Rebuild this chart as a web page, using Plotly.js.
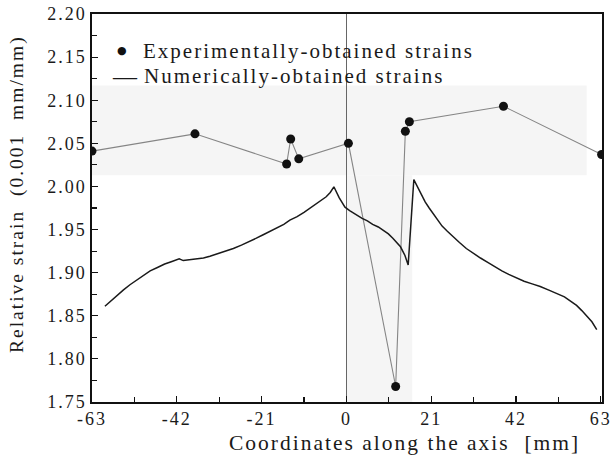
<!DOCTYPE html>
<html>
<head>
<meta charset="utf-8">
<script src="https://cdn.plot.ly/plotly-3.0.1.min.js"></script>
<style>
html,body{margin:0;padding:0;background:#fff;}
#plot{width:613px;height:455px;}
svg text{letter-spacing:2px;}
</style>
</head>
<body>
<div id="plot"></div>
<script>
// Experimentally-obtained strains
const expX = [-63, -37.5, -14.8, -13.8, -11.8, 0.5, 12.2, 14.6, 15.6, 38.9, 63.2];
const expY = [2.041, 2.061, 2.026, 2.055, 2.032, 2.050, 1.768, 2.064, 2.075, 2.093, 2.037];

// Numerically-obtained strains
const numX = [-59.8, -58.6, -57.5, -56.3, -55.2, -53.6, -52, -50.3, -48.6, -46.8, -45, -43.2, -41.4, -40.4, -38.5, -37, -35.4, -33.8,
              -31, -28, -26, -24, -22.3, -20.6, -18.8, -17, -15.5, -14, -12.2, -10.5, -9, -7.4, -6.2, -5, -4, -3.1,
              -1.8, -0.35, 0.8, 1.5, 2.7, 3.9, 5.2, 6.5, 7.9, 9.3, 10.4, 11.5, 12.5, 13.4, 14.5, 15.3, 16.7,
              17.6, 18.5, 19.5, 20.5, 21.5, 22.5, 23.7, 25, 26.5, 28, 29.7, 31.5, 33.2, 35, 36.7, 38.5, 40.2, 42,
              44, 46, 48, 50, 52, 54, 55.5, 57, 58.3, 59.5, 60.8, 62];
const numY = [1.861, 1.866, 1.871, 1.876, 1.880, 1.886, 1.891, 1.897, 1.902, 1.906, 1.910, 1.913, 1.916, 1.914, 1.915, 1.916, 1.917, 1.919,
              1.923, 1.928, 1.932, 1.936, 1.940, 1.944, 1.948, 1.952, 1.956, 1.961, 1.965, 1.970, 1.975, 1.980, 1.984, 1.988, 1.993, 1.9996,
              1.987, 1.976, 1.972, 1.970, 1.966, 1.963, 1.960, 1.956, 1.953, 1.949, 1.945, 1.940, 1.935, 1.930, 1.920, 1.909, 2.008,
              1.999, 1.990, 1.982, 1.975, 1.968, 1.961, 1.954, 1.948, 1.941, 1.935, 1.928, 1.922, 1.917, 1.912, 1.907, 1.902, 1.898, 1.894,
              1.890, 1.887, 1.884, 1.880, 1.876, 1.872, 1.867, 1.862, 1.856, 1.850, 1.843, 1.834];

// Axis ticks
const xTicks = [-63, -42, -21, 0, 21, 42, 63];
const xTickText = ['-63', '-42', '-21', '0', '21', '42', '63'];
const xMinor = [-52.5, -31.5, -10.5, 10.5, 31.5, 52.5];
const yTicks = [1.75, 1.80, 1.85, 1.90, 1.95, 2.00, 2.05, 2.10, 2.15, 2.20];
const yTickText = ['1.75', '1.80', '1.85', '1.90', '1.95', '2.00', '2.05', '2.10', '2.15', '2.20'];

const serif = 'Liberation Serif, Times New Roman, serif';
const ink = '#1a1a1a';

const traces = [
  {x: expX, y: expY, mode: 'lines', line: {color: '#858585', width: 1.1}, hoverinfo: 'skip', showlegend: false},
  {x: numX, y: numY, mode: 'lines', line: {color: ink, width: 1.5}, showlegend: false},
  {x: expX, y: expY, mode: 'markers', marker: {color: '#111', size: 9}, showlegend: false}
];

const plotL = 92, plotR = 602, plotT = 14, plotB = 402;
const px = v => (v - plotL) / (plotR - plotL);
const py = v => (plotB - v) / (plotB - plotT);

const layout = {
  width: 613, height: 455,
  margin: {l: plotL, r: 613 - plotR, t: plotT, b: 455 - plotB},
  paper_bgcolor: '#fff', plot_bgcolor: '#fff',
  font: {family: serif, size: 18, color: ink},
  xaxis: {
    range: [-63, 63.3], tickvals: xTicks, ticktext: xTickText,
    ticks: 'inside', ticklen: 6, tickwidth: 1.2, tickcolor: '#111',
    minor: {ticks: 'inside', ticklen: 5, tickwidth: 1.2, tickcolor: '#111', tickvals: xMinor},
    showline: true, linecolor: '#111', linewidth: 1.6, mirror: true,
    showgrid: false, zeroline: true, zerolinecolor: '#666', zerolinewidth: 1,
    tickfont: {family: serif, size: 18, color: ink}
  },
  yaxis: {
    range: [1.75, 2.20], tickvals: yTicks, ticktext: yTickText,
    ticks: 'inside', ticklen: 6, tickwidth: 1.2, tickcolor: '#111',
    minor: {ticks: 'inside', ticklen: 5, tickwidth: 1.2, tickcolor: '#111', dtick: 0.025, tick0: 1.75},
    showline: true, linecolor: '#111', linewidth: 1.6, mirror: true,
    showgrid: false, zeroline: false,
    tickfont: {family: serif, size: 18, color: ink}
  },
  shapes: [
    {type: 'rect', xref: 'paper', yref: 'y', x0: 0, x1: 0.97, y0: 2.013, y1: 2.117, fillcolor: '#f5f5f5', line: {width: 0}, layer: 'below'},
    {type: 'rect', xref: 'x', yref: 'y', x0: 0, x1: 16.3, y0: 1.75, y1: 2.013, fillcolor: '#f5f5f5', line: {width: 0}, layer: 'below'}
  ],
  annotations: [
    {xref: 'paper', yref: 'paper', x: px(123), y: py(50), text: '●', showarrow: false, xanchor: 'center', yanchor: 'middle', font: {family: 'DejaVu Sans', size: 11, color: '#111'}},
    {xref: 'paper', yref: 'paper', x: px(141), y: py(51), text: 'Experimentally-obtained strains', showarrow: false, xanchor: 'left', yanchor: 'middle', font: {family: serif, size: 21, color: ink}},
    {xref: 'paper', yref: 'paper', x: px(110), y: py(76), text: '—', showarrow: false, xanchor: 'left', yanchor: 'middle', font: {family: serif, size: 24, color: ink}},
    {xref: 'paper', yref: 'paper', x: px(142), y: py(76), text: 'Numerically-obtained strains', showarrow: false, xanchor: 'left', yanchor: 'middle', font: {family: serif, size: 21, color: ink}},
    {xref: 'paper', yref: 'paper', x: px(404), y: py(443), text: 'Coordinates along the axis  [mm]', showarrow: false, xanchor: 'center', yanchor: 'middle', font: {family: serif, size: 21.5, color: ink}},
    {xref: 'paper', yref: 'paper', x: px(17), y: py(194), text: 'Relative strain  (0.001  mm/mm)', textangle: -90, showarrow: false, xanchor: 'center', yanchor: 'middle', font: {family: serif, size: 19.5, color: ink}}
  ]
};

Plotly.newPlot('plot', traces, layout, {displayModeBar: false, staticPlot: true});
</script>
</body>
</html>
